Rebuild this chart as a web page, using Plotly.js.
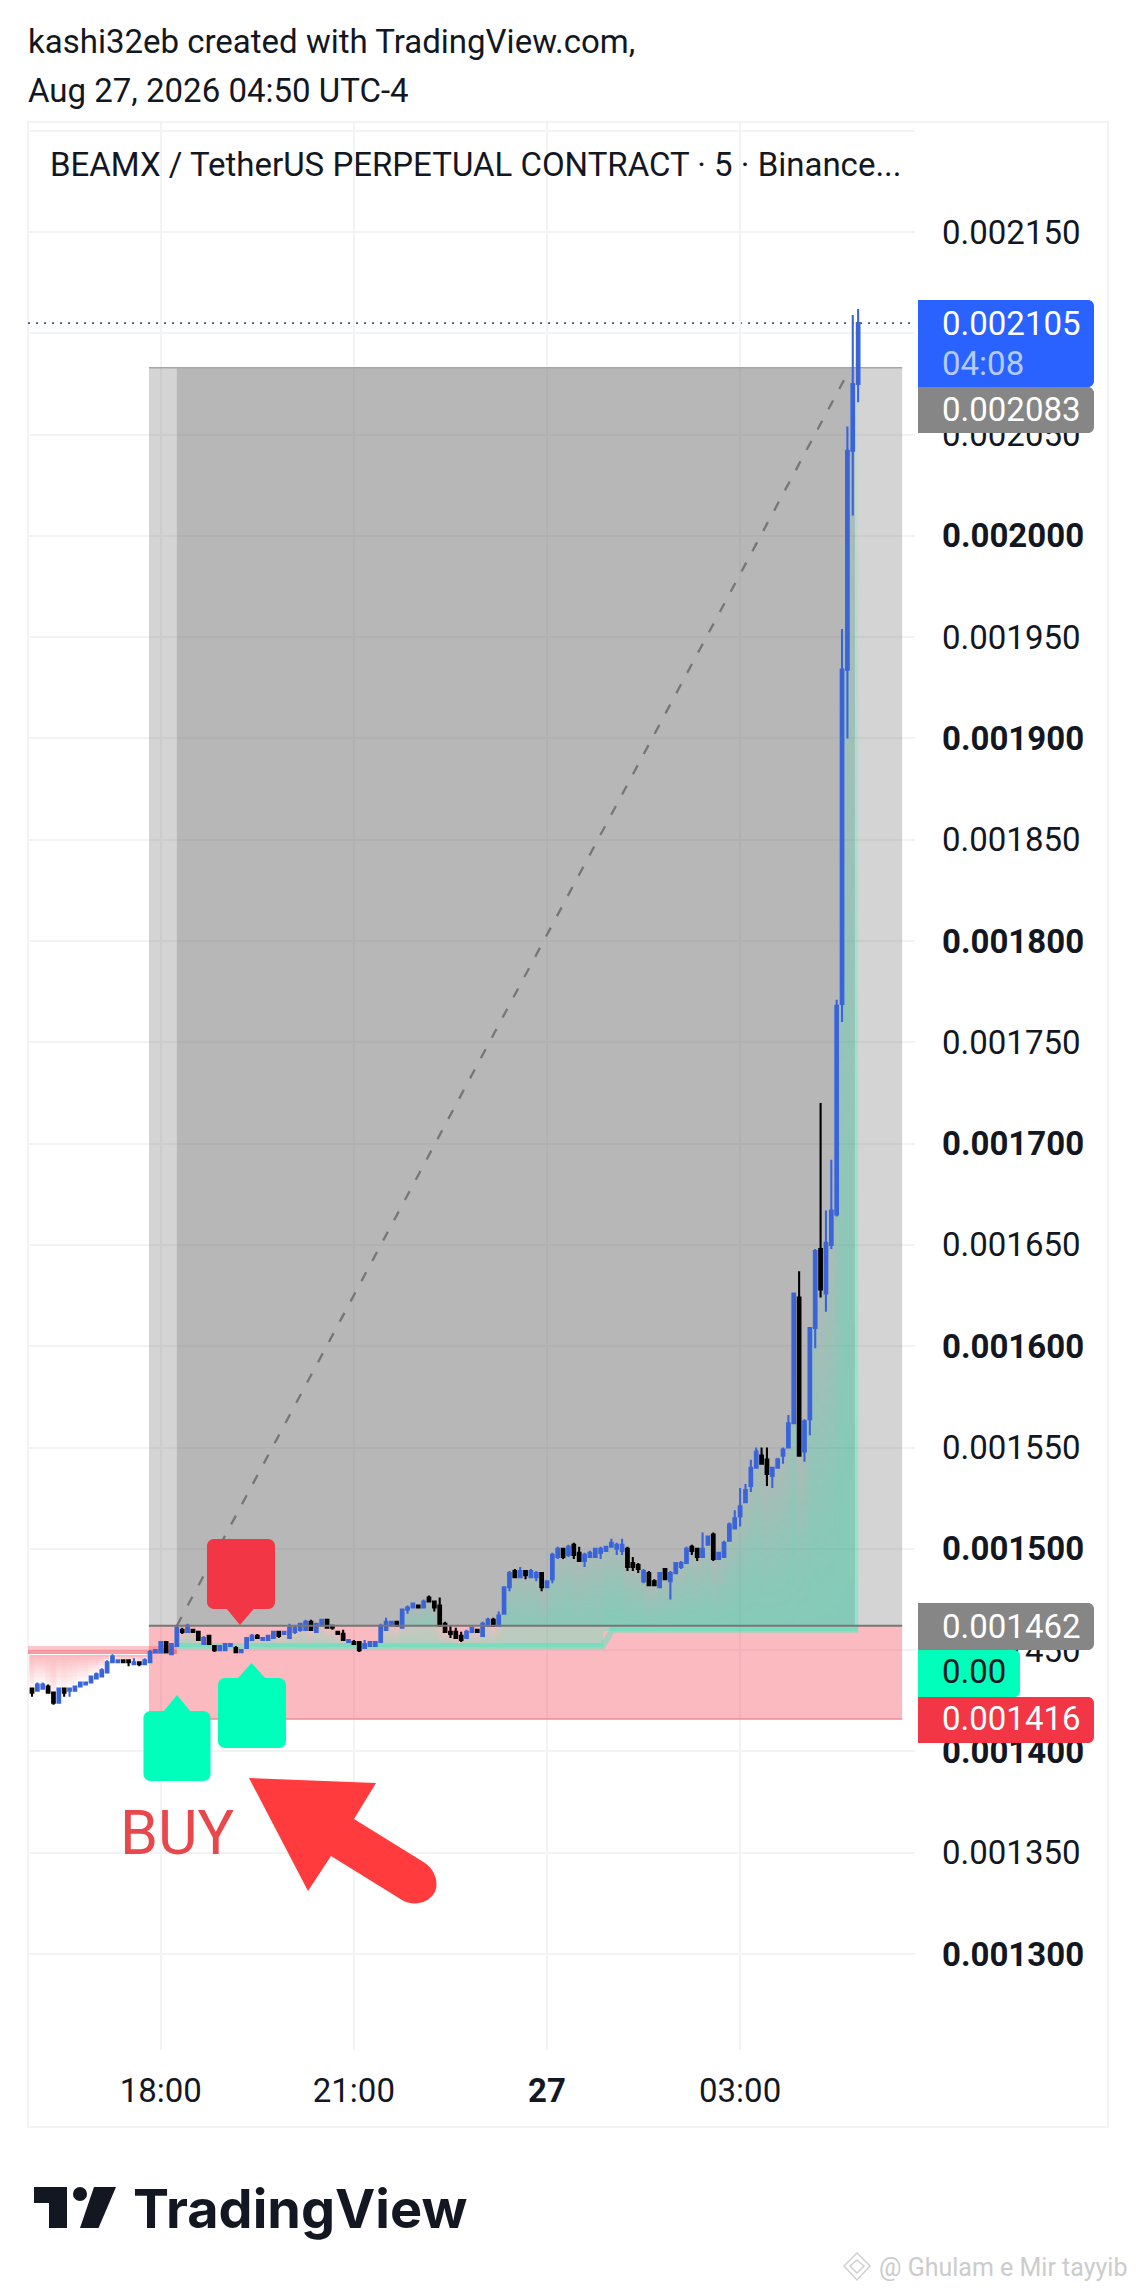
<!DOCTYPE html>
<html>
<head>
<meta charset="utf-8">
<script src="https://cdn.plot.ly/plotly-3.0.1.min.js"></script>
<style>html,body{margin:0;padding:0;background:#fff}#chart{width:1136px;height:2292px}</style>
</head>
<body>
<div id="chart"></div>
<script>
// ---- Data (micro-USDT, 1e-6) ----
const firstBar = '2026-08-26T16:00:00Z';
const barMinutes = 5;
const open  = [1431,1430,1431,1432,1429,1424,1431,1430,1430,1432,1433,1434,1436,1437,1439,1444,1444,1445,1445,1443,1444,1443,1444,1449,1449,1454,1448,1452,1460,1459,1460,1459,1453,1457,1452,1450,1450,1452,1451,1449,1451,1455,1457,1455,1455,1456,1459,1458,1456,1459,1460,1460,1464,1459,1462,1465,1462,1459,1458,1454,1454,1454,1451,1452,1452,1454,1460,1462,1464,1461,1470,1471,1472,1471,1476,1474,1472,1463,1459,1459,1457,1456,1459,1460,1457,1462,1465,1462,1468,1481,1489,1486,1489,1486,1486,1488,1481,1485,1496,1500,1497,1502,1498,1494,1496,1496,1498,1499,1501,1500,1499,1500,1493,1492,1484,1488,1484,1481,1490,1484,1488,1491,1493,1501,1500,1496,1502,1507,1495,1496,1504,1510,1516,1523,1531,1540,1546,1544,1536,1540,1546,1550,1562,1624,1548,1564,1609,1648,1626,1650,1665,1769,1934,2042,2075];
const high  = [1431,1434,1434,1433,1429,1431,1431,1431,1432,1434,1434,1437,1439,1441,1445,1448,1445,1445,1445,1446,1444,1446,1450,1450,1454,1454,1453,1462,1461,1463,1460,1459,1457,1457,1452,1452,1453,1453,1452,1450,1456,1458,1458,1456,1457,1459,1459,1459,1463,1462,1463,1465,1465,1463,1465,1465,1462,1459,1460,1455,1455,1454,1455,1454,1454,1463,1466,1464,1464,1470,1472,1473,1472,1475,1477,1474,1476,1464,1462,1461,1459,1460,1461,1460,1464,1466,1466,1469,1481,1489,1490,1491,1489,1490,1489,1488,1484,1498,1501,1500,1502,1503,1501,1498,1499,1500,1501,1501,1505,1503,1505,1501,1496,1493,1490,1489,1485,1488,1490,1489,1493,1494,1501,1502,1500,1508,1506,1508,1498,1504,1513,1519,1530,1532,1544,1550,1550,1550,1540,1545,1550,1566,1626,1637,1564,1609,1648,1720,1667,1692,1771,1954,2054,2109,2112];
const low   = [1427,1430,1431,1429,1423,1424,1427,1427,1430,1432,1433,1434,1436,1437,1439,1444,1444,1444,1442,1443,1442,1443,1444,1449,1449,1449,1448,1452,1458,1459,1459,1455,1453,1453,1449,1450,1450,1452,1449,1449,1451,1455,1456,1455,1455,1456,1456,1458,1456,1458,1459,1460,1460,1459,1462,1461,1460,1458,1455,1454,1453,1449,1451,1452,1452,1454,1460,1462,1462,1461,1468,1471,1471,1471,1474,1469,1462,1459,1456,1456,1454,1456,1459,1459,1457,1462,1462,1462,1468,1479,1486,1486,1485,1486,1484,1479,1481,1483,1495,1495,1496,1495,1494,1491,1496,1496,1495,1499,1501,1497,1497,1489,1489,1488,1483,1482,1482,1481,1485,1475,1488,1490,1493,1497,1494,1496,1502,1494,1495,1496,1504,1510,1511,1523,1528,1540,1542,1531,1530,1540,1542,1550,1562,1546,1543,1556,1599,1624,1617,1648,1664,1760,1900,2010,2066];
const close = [1429,1433,1433,1429,1424,1431,1429,1431,1432,1434,1434,1437,1438,1440,1444,1447,1445,1444,1444,1444,1443,1445,1449,1450,1454,1449,1453,1461,1459,1462,1459,1455,1456,1453,1450,1452,1453,1453,1449,1450,1456,1457,1456,1456,1457,1459,1457,1459,1461,1461,1463,1464,1460,1463,1465,1461,1461,1458,1455,1455,1453,1450,1453,1454,1454,1462,1464,1464,1462,1470,1471,1473,1471,1474,1474,1471,1462,1459,1458,1456,1455,1459,1461,1459,1463,1465,1462,1467,1481,1488,1486,1489,1487,1489,1488,1481,1484,1497,1500,1496,1501,1497,1494,1497,1498,1500,1500,1501,1503,1502,1502,1491,1491,1490,1489,1482,1482,1488,1485,1488,1493,1493,1500,1499,1496,1500,1506,1495,1498,1503,1512,1515,1521,1529,1540,1548,1542,1537,1540,1544,1549,1562,1626,1546,1563,1609,1647,1628,1651,1667,1768,1934,2042,2075,2105];

const entryPrice  = 1462;
const targetPrice = 2083;
const stopPrice   = 1416;
const lastPrice   = 2105;

const priceTicks = [1300,1350,1400,1450,1500,1550,1600,1650,1700,1750,1800,1850,1900,1950,2000,2050,2100,2150,2200];
const timeTicks  = ['2026-08-26 18:00','2026-08-26 21:00','2026-08-27 00:00','2026-08-27 03:00'];
const timeLabels = ['18:00','21:00','<b>27</b>','03:00'];

const redStopTimes    = ['2026-08-26 15:50','2026-08-26 18:15'];
const redStopLevels   = [1450,1450];
const greenStopTimes  = ['2026-08-26 18:15','2026-08-27 00:52','2026-08-27 01:01','2026-08-27 04:50'];
const greenStopLevels = [1452,1452,1460,1460];
const redFillBase = 1447;

const toolStart = '2026-08-26 17:49';
const toolDarkStart = '2026-08-26 18:15';
const toolDarkEnd = '2026-08-27 04:47';
const toolEnd = '2026-08-27 05:31';
const arrowEnd = '2026-08-27 04:42';
const fillEnd = '2026-08-27 04:50:00';

// ---- Helpers ----
const price = v => v / 1e6;
const fmtTime = ms => new Date(ms).toISOString().slice(0,16).replace('T',' ');
const fmtSec = ms => new Date(ms).toISOString().slice(0,19).replace('T',' ');
const t0 = Date.parse(firstBar);
const times = close.map((_, i) => fmtTime(t0 + i * barMinutes * 60000));
const fillEdges = close.map((_, i) => fmtSec(t0 + (i - 0.5) * barMinutes * 60000)).concat([fillEnd]);

// page pixels to paper fractions
const L = 28, R = 915, T = 122, B = 2050;
const px = x => (x - L) / (R - L);
const py = y => (B - y) / (B - T);
const P = (x, y) => px(x) + ',' + py(y);

function roundBox(x0, y0, x1, y1, r) {
  const k = r * 0.45;
  return 'M' + P(x0 + r, y0) + ' L' + P(x1 - r, y0) +
    ' C' + P(x1 - k, y0) + ' ' + P(x1, y0 + k) + ' ' + P(x1, y0 + r) +
    ' L' + P(x1, y1 - r) +
    ' C' + P(x1, y1 - k) + ' ' + P(x1 - k, y1) + ' ' + P(x1 - r, y1) +
    ' L' + P(x0 + r, y1) +
    ' C' + P(x0 + k, y1) + ' ' + P(x0, y1 - k) + ' ' + P(x0, y1 - r) +
    ' L' + P(x0, y0 + r) +
    ' C' + P(x0, y0 + k) + ' ' + P(x0 + k, y0) + ' ' + P(x0 + r, y0) + ' Z';
}
function rightRoundBox(x0, y0, x1, y1, r) {
  const k = r * 0.45;
  return 'M' + P(x0, y0) + ' L' + P(x1 - r, y0) +
    ' C' + P(x1 - k, y0) + ' ' + P(x1, y0 + k) + ' ' + P(x1, y0 + r) +
    ' L' + P(x1, y1 - r) +
    ' C' + P(x1, y1 - k) + ' ' + P(x1 - k, y1) + ' ' + P(x1 - r, y1) +
    ' L' + P(x0, y1) + ' Z';
}
const poly = pts => 'M' + pts.map(p => P(p[0], p[1])).join(' L') + ' Z';
const pathShape = (path, color, extra) => Object.assign(
  {type:'path', xref:'paper', yref:'paper', path, fillcolor:color, line:{width:0}, layer:'above'}, extra || {});

// gradient between the stop level and the closes, bar by bar
const gridPrices = [];
for (let v = 1400; v <= 2115; v++) gridPrices.push(v);
const greenBase = i => {
  const t = Date.parse(times[i].replace(' ', 'T') + ':00Z');
  const a = Date.parse(greenStopTimes[1].replace(' ', 'T') + ':00Z');
  return t <= a ? greenStopLevels[1] : greenStopLevels[2];
};
const firstGreen = 27;
const fillZ = gridPrices.map(p => close.map((c, i) => {
  if (i < firstGreen) {
    if (c >= redFillBase || p > redFillBase || p < c) return null;
    return -(1 - (redFillBase - p) / (redFillBase - c));
  }
  const b = greenBase(i);
  if (c <= b || p < b || p > c) return null;
  return 0.12 + 0.88 * (1 - Math.pow((p - b) / (c - b), 1.6));
}));

const fillTrace = {
  type:'heatmap', x:fillEdges, y:gridPrices.map(price), z:fillZ, zmin:-1, zmax:1,
  showscale:false, hoverinfo:'skip', xaxis:'x', yaxis:'y',
  colorscale:[[0,'rgba(242,54,69,0.34)'],[0.4999,'rgba(242,54,69,0)'],[0.5,'rgba(0,255,187,0)'],[1,'rgba(0,255,187,0.27)']]
};
const redStopWide = {type:'scatter', mode:'lines', x:redStopTimes, y:redStopLevels.map(price),
  line:{color:'rgba(242,54,69,0.28)', width:8}, hoverinfo:'skip', showlegend:false};
const redStopCore = {type:'scatter', mode:'lines', x:redStopTimes, y:redStopLevels.map(v => price(v - 1)),
  line:{color:'rgba(242,54,69,0.3)', width:4}, hoverinfo:'skip', showlegend:false};
const greenStop = {type:'scatter', mode:'lines', x:greenStopTimes, y:greenStopLevels.map(price),
  line:{color:'rgba(0,255,187,0.34)', width:6}, hoverinfo:'skip', showlegend:false};
const candles = {
  type:'candlestick', x:times, open:open.map(price), high:high.map(price), low:low.map(price), close:close.map(price),
  xaxis:'x2', yaxis:'y2', whiskerwidth:0, hoverinfo:'skip', showlegend:false,
  increasing:{line:{color:'#3a64d8', width:2.1}, fillcolor:'#3a64d8'},
  decreasing:{line:{color:'#000000', width:2.1}, fillcolor:'#000000'}
};

const xRange = ['2026-08-26 15:56:16','2026-08-27 05:43:00'];
const yRange = [price(1252.6), price(2204.3)];
const font = 'Roboto, sans-serif';

const shapes = [
  // chart frame
  {type:'rect', xref:'paper', yref:'paper', x0:px(28), x1:px(1108), y0:py(122), y1:py(2127), line:{color:'#f2f3f5', width:2}, fillcolor:'rgba(0,0,0,0)', layer:'below'},
  // position tool: profit zone
  {type:'rect', xref:'x', yref:'y', x0:toolStart, x1:toolEnd, y0:price(entryPrice), y1:price(targetPrice), fillcolor:'rgba(120,120,120,0.32)', line:{width:0}, layer:'between'},
  {type:'rect', xref:'x', yref:'y', x0:toolDarkStart, x1:toolDarkEnd, y0:price(entryPrice), y1:price(targetPrice), fillcolor:'rgba(100,100,100,0.26)', line:{width:0}, layer:'between'},
  // position tool: loss zone
  {type:'rect', xref:'x', yref:'y', x0:toolStart, x1:toolEnd, y0:price(stopPrice), y1:price(entryPrice), fillcolor:'rgba(242,54,69,0.34)', line:{width:0}, layer:'between'},
  // tool edges
  {type:'line', xref:'x', yref:'y', x0:toolStart, x1:toolEnd, y0:price(targetPrice), y1:price(targetPrice), line:{color:'#a5a5a5', width:1.5}, layer:'between'},
  {type:'line', xref:'x', yref:'y', x0:toolStart, x1:toolEnd, y0:price(stopPrice), y1:price(stopPrice), line:{color:'#ec8c94', width:1.5}, layer:'between'},
  {type:'line', xref:'x', yref:'y', x0:toolStart, x1:toolEnd, y0:price(entryPrice), y1:price(entryPrice), line:{color:'#7a7474', width:2}, layer:'above'},
  // dashed trade line
  {type:'line', xref:'x', yref:'y', x0:toolDarkStart, x1:arrowEnd, y0:price(entryPrice), y1:price(targetPrice - 1), line:{color:'#767676', width:2.3, dash:'10px,13px'}, layer:'between'},
  // last price dotted line
  {type:'line', xref:'paper', yref:'y', x0:0, x1:1, y0:price(lastPrice), y1:price(lastPrice), line:{color:'#4a5870', width:1.8, dash:'2px,6px'}, layer:'between'},
  // buy / sell flags
  pathShape(roundBox(143.5,1711,210.5,1781,7), '#00ffbb'),
  pathShape(poly([[163,1712],[177,1695],[191,1712]]), '#00ffbb'),
  pathShape(roundBox(218,1678,286,1748,7), '#00ffbb'),
  pathShape(poly([[237,1679],[251.5,1663],[266,1679]]), '#00ffbb'),
  pathShape(roundBox(207,1539,275,1609,7), '#f23645'),
  pathShape(poly([[226,1608],[240,1625],[254.5,1608]]), '#f23645'),
  // big red arrow
  pathShape('M' + P(249,1778) + ' L' + P(376,1783) + ' L' + P(354,1819) + ' L' + P(425,1863) +
    ' C' + P(438,1872) + ' ' + P(440,1890) + ' ' + P(431,1897) +
    ' C' + P(423,1905) + ' ' + P(410,1905) + ' ' + P(402,1900) +
    ' L' + P(331,1856) + ' L' + P(308,1891) + ' Z', '#ff3b3d'),
  // price scale labels
  pathShape(rightRoundBox(918,300,1094,387,6), '#2962ff'),
  pathShape(rightRoundBox(918,387,1094,433,6), '#868686'),
  pathShape(rightRoundBox(918,1603,1094,1650,6), '#868686'),
  pathShape(rightRoundBox(918,1650,1020,1697,6), '#00ffbb'),
  pathShape(rightRoundBox(918,1697,1094,1743,6), '#f23645'),
  // TradingView logo
  pathShape(poly([[34,2187],[67,2187],[67,2228],[49,2228],[49,2203],[34,2203]]), '#131722'),
  pathShape(poly([[94,2187],[116,2187],[98.5,2228],[80,2228]]), '#131722'),
  {type:'circle', xref:'paper', yref:'paper', x0:px(73), x1:px(87), y0:py(2201), y1:py(2187), fillcolor:'#131722', line:{width:0}, layer:'above'},
  // watermark glyph
  {type:'path', xref:'paper', yref:'paper', path:'M' + P(857,2253) + ' L' + P(870,2266) + ' L' + P(857,2280) + ' L' + P(844,2266) + ' Z', fillcolor:'rgba(0,0,0,0)', line:{color:'#d0d0d0', width:1.5}, layer:'above'},
  {type:'path', xref:'paper', yref:'paper', path:'M' + P(857,2260) + ' L' + P(864,2266) + ' L' + P(857,2273) + ' L' + P(850,2266) + ' Z', fillcolor:'rgba(0,0,0,0)', line:{color:'#d0d0d0', width:1.5}, layer:'above'}
];

const note = (x, y, text, size, color, extra) => Object.assign({
  xref:'paper', yref:'paper', x:px(x), y:py(y), text, showarrow:false, xanchor:'left', yanchor:'middle',
  align:'left', borderpad:0, font:{family:font, size, color}
}, extra || {});

const annotations = [
  note(27, 42, 'kashi32eb created with TradingView.com,', 33, '#131722'),
  note(27, 90, 'Aug 27, 2026 04:50 UTC-4', 33, '#131722'),
  note(49, 164, 'BEAMX / TetherUS PERPETUAL CONTRACT · 5 · Binance...', 33, '#131722'),
  note(940.5, 324, '0.002105', 33, '#ffffff'),
  note(940.5, 363, '04:08', 33, '#b4cbff'),
  note(940.5, 409, '0.002083', 33, '#ffffff'),
  note(940.5, 1626, '0.001462', 33, '#ffffff'),
  note(940.5, 1671, '0.00', 33, '#131722'),
  note(940.5, 1718, '0.001416', 33, '#ffffff'),
  note(119, 1833, 'BUY', 61, '#e8474c'),
  note(132, 2208, '<b>TradingView</b>', 54, '#131722', {font:{family:'Inter, sans-serif', size:54, color:'#131722'}}),
  note(878, 2267, '@ Ghulam e Mir tayyib', 25, '#cccccc')
];

const tickText = priceTicks.map(v => {
  if (v === 2200) return '';
  const s = (v / 1e6).toFixed(6);
  return v % 100 === 0 ? '<b>' + s + '</b>' : s;
});

const layout = {
  width:1136, height:2292,
  margin:{l:L, r:1136-R, t:T, b:2292-B, pad:0},
  paper_bgcolor:'#ffffff', plot_bgcolor:'#ffffff',
  showlegend:false,
  xaxis:{type:'date', range:xRange, tickvals:timeTicks, ticktext:timeLabels, ticks:'',
    showgrid:true, gridcolor:'#f2f3f5', gridwidth:2, zeroline:false, showline:false,
    ticklabelstandoff:18, rangeslider:{visible:false}, tickangle:0,
    tickfont:{family:font, size:33, color:'#131722'}},
  yaxis:{range:yRange, side:'right', tickmode:'array', tickvals:priceTicks.map(price), ticktext:tickText, ticks:'',
    showgrid:true, gridcolor:'#f2f3f5', gridwidth:2, zeroline:false, showline:false,
    ticklabelstandoff:26,
    tickfont:{family:font, size:33, color:'#131722'}},
  xaxis2:{type:'date', overlaying:'x', range:xRange, visible:false, rangeslider:{visible:false}},
  yaxis2:{overlaying:'y', side:'right', range:yRange, visible:false},
  shapes, annotations
};

Plotly.newPlot('chart', [fillTrace, redStopWide, redStopCore, greenStop, candles], layout, {displayModeBar:false, staticPlot:true});
</script>
</body>
</html>
